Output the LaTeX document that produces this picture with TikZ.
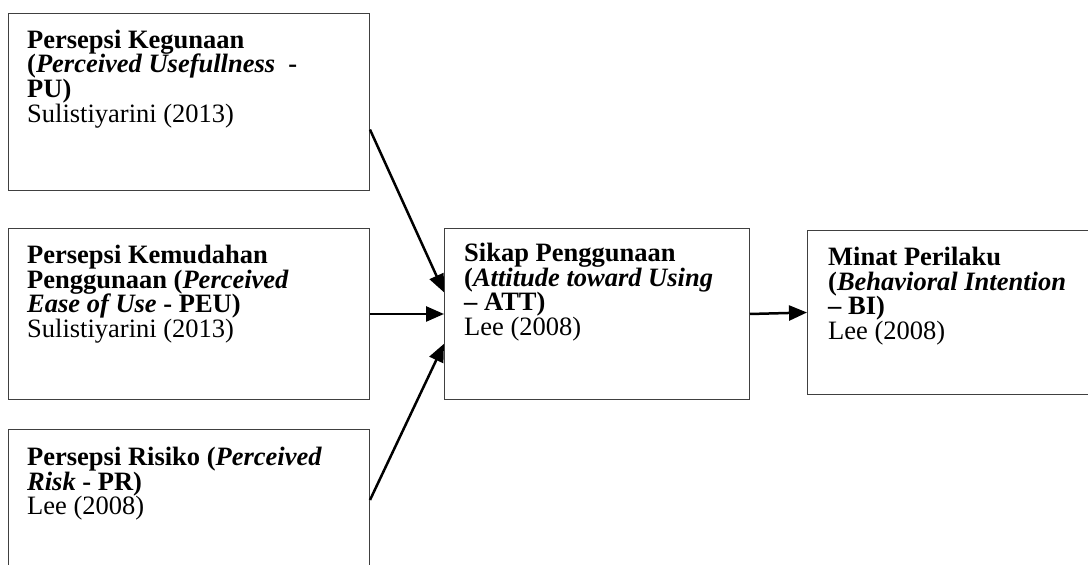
\documentclass[tikz,border=0pt]{standalone}
\usepackage{fontspec}
\setmainfont{Liberation Serif}
\usetikzlibrary{arrows.meta,calc}
\tikzset{
  box/.style={draw=black!75, line width=1pt, inner sep=0pt, anchor=north west},
  lbl/.style={anchor=north west, inner sep=0pt, align=left,
    font=\fontsize{26.5}{24.7}\selectfont},
  arr/.style={line width=2.5pt, -{Triangle[length=18pt,width=15pt]}}
}
\newcommand{\fst}{\rule{0pt}{18pt}}
\begin{document}
\begin{tikzpicture}[x=1pt,y=1pt]
\clip (0,0) rectangle (1088,565);
\fill[white] (0,0) rectangle (1088,565);
% boxes
\node[box, minimum width=361pt, minimum height=177pt] (b1) at (8,552) {};
\node[box, minimum width=361pt, minimum height=171pt] (b2) at (8,337) {};
\node[box, minimum width=361pt, minimum height=160pt] (b3) at (8,136) {};
\node[box, minimum width=305pt, minimum height=171pt] (b4) at (444,337) {};
\node[box, minimum width=300pt, minimum height=164pt] (b5) at (807,335) {};
% texts
\node[lbl] (t1) at ($(b1.north west)+(19,-16.7)$) {\fst\textbf{Persepsi Kegunaan}\\
  \textbf{(\textit{Perceived Usefullness}\ \ -}\\
  \textbf{PU)}\\
  Sulistiyarini (2013)};
\node[lbl] (t2) at ($(b2.north west)+(19,-17)$) {\fst\textbf{Persepsi Kemudahan}\\
  \textbf{Penggunaan (\textit{Perceived}}\\
  \textbf{\textit{Ease of Use} - PEU)}\\
  Sulistiyarini (2013)};
\node[lbl] (t3) at ($(b3.north west)+(19,-18)$) {\fst\textbf{Persepsi Risiko (\textit{Perceived}}\\
  \textbf{\textit{Risk} - PR)}\\
  Lee (2008)};
\node[lbl] (t4) at ($(b4.north west)+(20,-15)$) {\fst\textbf{Sikap Penggunaan}\\
  \textbf{(\textit{Attitude toward Using}}\\
  \textbf{– ATT)}\\
  Lee (2008)};
\node[lbl] (t5) at ($(b5.north west)+(21,-17)$) {\fst\textbf{Minat Perilaku}\\
  \textbf{(\textit{Behavioral Intention}}\\
  \textbf{– BI)}\\
  Lee (2008)};
% connectors
\coordinate (s1) at ($(b1.north east)!0.655!(b1.south east)$);
\coordinate (e1) at ($(b4.north west)!0.374!(b4.south west)$);
\coordinate (s3) at ($(b3.north east)+(0,-71)$);
\coordinate (e3) at ($(b4.north west)!0.673!(b4.south west)$);
\draw[arr] (s1) -- (e1);
\draw[arr] (b2.east) -- (b4.west);
\draw[arr] (s3) -- (e3);
\draw[arr] (b4.east) -- (b5.west);
\end{tikzpicture}
\end{document}
